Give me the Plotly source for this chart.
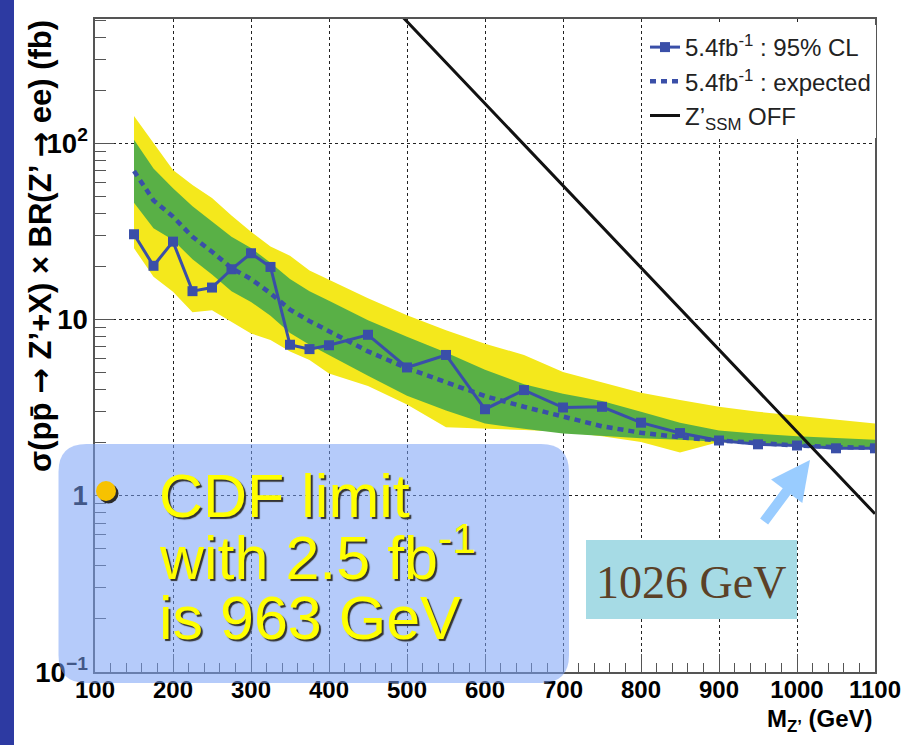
import plotly.graph_objects as go

# ---------------- data ----------------
mass = [150, 175, 200, 225, 250, 275, 300, 325, 350, 375, 400, 450, 500,
        550, 600, 650, 700, 750, 800, 850, 900, 950, 1000, 1050, 1100]
observed = [30.5, 20.2, 27.7, 14.5, 15.2, 19.3, 23.8, 19.9, 7.2, 6.8, 7.15,
            8.2, 5.35, 6.3, 3.1, 3.98, 3.17, 3.2, 2.6, 2.27, 2.06, 1.96, 1.93,
            1.86, 1.86]
expected = [69.7, 47.5, 38.4, 29.5, 24.3, 19.6, 17.0, 14.1, 11.4, 9.8, 8.6,
            6.6, 5.3, 4.45, 3.68, 3.2, 2.81, 2.48, 2.28, 2.15, 2.06, 1.98,
            1.93, 1.89, 1.87]
yellow_hi = [143, 100, 70.6, 58, 49, 39, 31.5, 26, 23, 19, 16.8, 13.2, 10.6,
             8.7, 7.3, 6.3, 5.05, 4.4, 3.85, 3.5, 3.2, 3.0, 2.85, 2.7, 2.57]
green_hi = [105, 72, 55.6, 44, 36, 29.5, 25.5, 21, 17, 14.5, 12.8, 9.9, 8.0,
            6.5, 5.2, 4.3, 3.8, 3.45, 3.0, 2.6, 2.35, 2.25, 2.18, 2.12, 2.08]
green_lo = [46, 33, 28.3, 22, 18, 14.5, 12.6, 10.5, 8.4, 7.2, 6.3, 4.8, 3.7,
            3.05, 2.57, 2.4, 2.26, 2.18, 2.12, 2.08, 2.04, 1.97, 1.92, 1.88,
            1.86]
yellow_lo = [25.4, 17.5, 14.4, 11.0, 11.3, 9.7, 8.35, 7.65, 6.6, 5.9, 4.95,
             4.2, 3.3, 2.45, 2.41, 2.36, 2.31, 2.18, 2.02, 1.76, 2.02, 1.96,
             1.92, 1.88, 1.86]
zp_mass = [450, 500, 600, 700, 800, 900, 1000, 1100]
zp_xsec = [840, 492, 168, 57.6, 19.7, 6.75, 2.31, 0.79]

x_ticks = [100, 200, 300, 400, 500, 600, 700, 800, 900, 1000, 1100]

# ---------------- layout geometry ----------------
W, H = 914, 745
ML, MR, MT, MB = 95, 39, 19, 73
PW, PH = W - ML - MR, H - MT - MB


def px(xp):
    return (xp - ML) / PW


def py(yp):
    return (H - MB - yp) / PH


YELLOW = "#F4E81C"
GREEN = "#59B046"
BLUE = "#3A4FA8"
XTICKFONT = dict(family="Liberation Sans", size=24, color="black",
                 weight="bold")
YTICKFONT = dict(family="Liberation Sans", size=22, color="black",
                 weight="bold")

fig = go.Figure()

fig.add_trace(go.Scatter(
    x=mass + mass[::-1], y=yellow_hi + yellow_lo[::-1], fill="toself",
    fillcolor=YELLOW, line=dict(width=0), mode="lines", showlegend=False,
    hoverinfo="skip"))
fig.add_trace(go.Scatter(
    x=mass + mass[::-1], y=green_hi + green_lo[::-1], fill="toself",
    fillcolor=GREEN, line=dict(width=0), mode="lines", showlegend=False,
    hoverinfo="skip"))
fig.add_trace(go.Scatter(
    x=mass, y=observed, mode="lines+markers",
    name="5.4fb<sup>-1</sup> : 95% CL",
    line=dict(color=BLUE, width=3),
    marker=dict(symbol="square", size=10, color=BLUE),
    legendgroup="a"))
fig.add_trace(go.Scatter(
    x=mass, y=expected, mode="lines", name="5.4fb<sup>-1</sup> : expected",
    line=dict(color=BLUE, width=4.5, dash="6px,5px"), legendgroup="b"))
fig.add_trace(go.Scatter(
    x=zp_mass, y=zp_xsec, mode="lines", name="Z’<sub>SSM</sub> OFF",
    line=dict(color="#111111", width=3), legendgroup="c"))

grid = dict(showgrid=True, gridcolor="#222222", gridwidth=1,
            griddash="3px,3px")

fig.update_xaxes(
    range=[100, 1100], tickmode="array", tickvals=x_ticks,
    ticks="inside", ticklen=18, tickcolor="#555555", tickwidth=1,
    minor=dict(dtick=20, tick0=0, ticks="inside", ticklen=9,
               tickcolor="#555555", showgrid=False),
    showline=True, linecolor="#555555", linewidth=1.5, mirror=True,
    tickfont=XTICKFONT, zeroline=False, ticklabelstandoff=-5, **grid)
fig.update_yaxes(
    type="log", range=[-1, 2.706], tickmode="linear", tick0=0, dtick=1,
    exponentformat="power",
    ticks="inside", ticklen=19, tickcolor="#555555", tickwidth=1,
    minor=dict(dtick="D1", ticks="inside", ticklen=11, tickcolor="#555555",
               showgrid=False),
    showline=True, linecolor="#555555", linewidth=1.5, mirror=True,
    tickfont=YTICKFONT, zeroline=False, ticklabelstandoff=1, **grid)

# rounded blue box
bx0, bx1, by0, by1, r = 58.5, 569, 444, 683, 28


def rpath(x0, x1, y0, y1, r):
    pts = []
    pts.append(f"M {px(x0 + r)},{py(y0)}")
    pts.append(f"L {px(x1 - r)},{py(y0)}")
    pts.append(f"Q {px(x1)},{py(y0)} {px(x1)},{py(y0 + r)}")
    pts.append(f"L {px(x1)},{py(y1 - r)}")
    pts.append(f"Q {px(x1)},{py(y1)} {px(x1 - r)},{py(y1)}")
    pts.append(f"L {px(x0 + r)},{py(y1)}")
    pts.append(f"Q {px(x0)},{py(y1)} {px(x0)},{py(y1 - r)}")
    pts.append(f"L {px(x0)},{py(y0 + r)}")
    pts.append(f"Q {px(x0)},{py(y0)} {px(x0 + r)},{py(y0)} Z")
    return " ".join(pts)


shapes = [
    # left slide strip
    dict(type="rect", xref="paper", yref="paper", x0=px(0), x1=px(14),
         y0=py(H), y1=py(0), fillcolor="#2D3AA2", line=dict(width=0),
         layer="above"),
    dict(type="path", xref="paper", yref="paper",
         path=rpath(bx0, bx1, by0, by1, r),
         fillcolor="rgba(120,160,245,0.55)", line=dict(width=0),
         layer="above"),
    # bullet shadow and bullet
    dict(type="circle", xref="paper", yref="paper",
         x0=px(98.5), x1=px(118.5), y0=py(503.5), y1=py(483.5),
         fillcolor="#2a2a2a", line=dict(width=0), layer="above"),
    dict(type="circle", xref="paper", yref="paper",
         x0=px(96), x1=px(116), y0=py(501), y1=py(481),
         fillcolor="#F7C200", line=dict(width=0), layer="above"),
    # 1026 GeV box
    dict(type="rect", xref="paper", yref="paper",
         x0=px(586), x1=px(797), y0=py(619), y1=py(540),
         fillcolor="#A6DBE5", line=dict(width=0), layer="above"),
]

ARROW = "<span style='font-family:DejaVu Sans'>→</span>"
cdf_font = dict(family="Liberation Sans", size=61, color="#FFFF00",
                shadow="2px 2px 1px #333333")
annotations = [
    dict(xref="paper", yref="paper", x=px(40), y=py(18), xanchor="center",
         yanchor="top", textangle=-90, showarrow=False,
         text=f"σ(pp\u0304 {ARROW} Z’+X) × BR(Z’ {ARROW} ee) (fb)",
         font=dict(family="Liberation Sans", size=31, color="black",
                   weight="bold")),
    dict(xref="paper", yref="paper", x=px(875), y=py(720), xanchor="right",
         yanchor="middle", showarrow=False, text="M<sub>Z’</sub> (GeV)",
         font=XTICKFONT),
    dict(xref="paper", yref="paper", x=px(157), y=py(496), xanchor="left",
         yanchor="middle", showarrow=False, text="CDF limit", font=cdf_font),
    dict(xref="paper", yref="paper", x=px(157), y=py(553), xanchor="left",
         yanchor="middle", showarrow=False, text="with 2.5 fb<sup>-1</sup>",
         font=cdf_font),
    dict(xref="paper", yref="paper", x=px(157), y=py(618), xanchor="left",
         yanchor="middle", showarrow=False, text="is 963 GeV",
         font=cdf_font),
    dict(xref="paper", yref="paper", x=px(691), y=py(582), xanchor="center",
         yanchor="middle", showarrow=False, text="1026 GeV",
         font=dict(family="Liberation Serif", size=46, color="#5B4127")),
    dict(xref="paper", yref="paper", x=px(810), y=py(460), text="",
         showarrow=True, ax=-47, ay=63, arrowhead=2, arrowsize=0.78,
         arrowwidth=10, arrowcolor="#99CCFF", standoff=0),
]

fig.update_layout(
    width=W, height=H,
    margin=dict(l=ML, r=MR, t=MT, b=MB, pad=0),
    paper_bgcolor="white", plot_bgcolor="white",
    showlegend=True,
    legend=dict(x=px(645), y=py(25), xanchor="left", yanchor="top",
                bgcolor="white", borderwidth=0, tracegroupgap=0,
                font=dict(family="Liberation Sans", size=24, color="#222222")),
    shapes=shapes, annotations=annotations,
)

fig.write_html("out.html", config={"displayModeBar": False},
               post_script="document.body.style.margin='0px';"
                           "document.body.style.padding='0px';")
